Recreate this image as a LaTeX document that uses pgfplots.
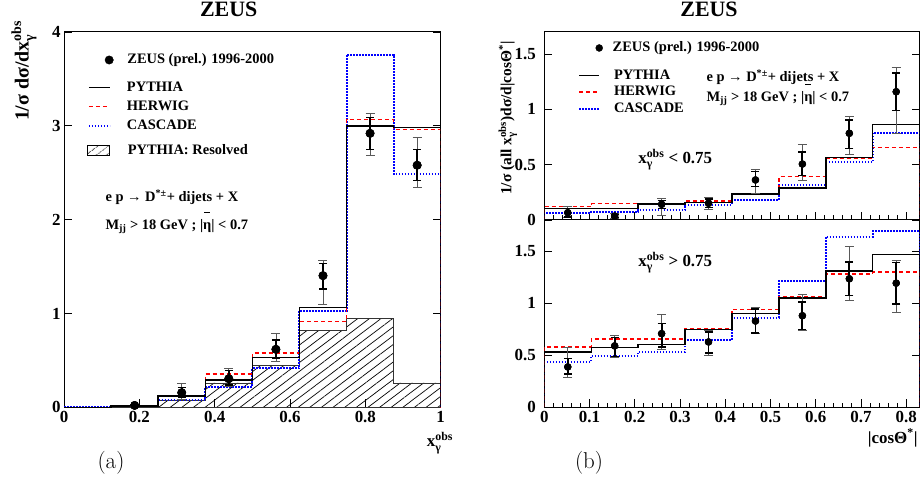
\documentclass[border=0pt]{standalone}
\usepackage{amsmath}
\usepackage{fontspec}
\usepackage{pgfplots}
\pgfplotsset{compat=1.18}
\usetikzlibrary{patterns.meta}
\newfontfamily\tms{Liberation Serif}
\newcommand\fs[1]{\fontsize{#1}{#1}\selectfont}
\newcommand\xobs{x$^{\text{obs}}_{\text{γ}}$}
\newcommand\etabar{\vbox{\hbox{\kern0.06em\vrule height 0.07em depth 0pt width 0.42em}\kern0.12em\hbox{η}}}

\pgfplotsset{
  zeus/.style={scale only axis, anchor=south west,
    axis line style={line width=1bp},
    tick style={line width=0.8bp, black},
    major tick length=8bp, minor tick length=4.5bp,
    tick align=inside, xtick pos=left, ytick pos=both,
    /pgf/number format/assume math mode=true,
    tick label style={font=\tms\bfseries\fs{17}},
    legend cell align=left},
  leg/.style 2 args={legend style={draw=none, fill=none, inner sep=0pt, outer sep=0pt,
    font=\tms\bfseries\fs{14.5}, row sep=#1,
    nodes={inner sep=0pt, text height=10bp, text depth=2bp},
    /tikz/every odd column/.append style={column sep=#2}}},
  pyt/.style={black, line width=1.4bp, const plot},
  her/.style={red, dash pattern=on 4bp off 3bp, line width=1.3bp, const plot},
  cas/.style={blue, dash pattern=on 1.5bp off 1.5bp, line width=2bp, const plot},
  outerr/.style={only marks, mark=*, mark size=#1, black,
    error bars/y dir=both, error bars/y explicit,
    error bars/error bar style={line width=0.7bp, black!65},
    error bars/error mark options={rotate=90, mark size=4.5bp, line width=0.7bp, black!65}},
  innerr/.style={only marks, mark=*, mark size=#1, black,
    error bars/y dir=both, error bars/y explicit,
    error bars/error bar style={line width=1.8bp, black},
    error bars/error mark options={rotate=90, mark size=4bp, line width=1.5bp, black}},
  lineimg/.style={legend image code/.code={\draw[##1] (0bp,0bp) -- (#1,0bp);}},
  dotimg/.style={legend image code/.code={\path (0bp,0bp); \draw[##1] plot coordinates {(#1,0bp)};}},
}

\begin{document}
\begin{tikzpicture}
\path[use as bounding box] (0,0) rectangle (920bp,483bp);

% ---------------- panel (a)
\begin{axis}[zeus, at={(64bp,75.7bp)}, width=376.7bp, height=375.3bp,
  xmin=0, xmax=1, ymin=0, ymax=4,
  xtick={0,0.2,...,1}, ytick={0,1,2,3,4},
  leg={0bp}{14bp}, legend style={at={(0.0637,0.9254)}, anchor=west}]
\addplot[pattern={Lines[angle=37, distance=7bp, line width=0.7bp]}, draw=black!80, line width=0.8bp, const plot, forget plot]
  coordinates {(0,0)(0.125,0)(0.25,0.075)(0.375,0.26)(0.5,0.45)(0.625,0.82)(0.75,0.95)(0.875,0.26)(1,0.26)} \closedcycle;
\addplot[cas, forget plot] coordinates {(0,0)(0.125,0.01)(0.25,0.078)(0.375,0.22)(0.5,0.415)(0.625,1.03)(0.75,3.76)(0.875,2.487)(1,2.487)(1,0)};
\addplot[her, forget plot] coordinates {(0,0)(0.125,0.01)(0.25,0.128)(0.375,0.355)(0.5,0.58)(0.625,0.913)(0.75,3.07)(0.875,2.96)(1,2.96)(1,0)};
\addplot[pyt, forget plot] coordinates {(0,0)(0.125,0.014)(0.25,0.12)(0.375,0.29)(0.5,0.53)(0.625,1.066)(0.75,3.00)(0.875,2.98)(1,2.98)(1,0)};
\addplot[outerr=4.2bp, forget plot] coordinates {
  (0.1875,0.02) += (0,0.015) -= (0,0.015)
  (0.3125,0.156) += (0,0.10) -= (0,0.07)
  (0.4375,0.305) += (0,0.11) -= (0,0.085)
  (0.5625,0.618) += (0,0.17) -= (0,0.13)
  (0.6875,1.403) += (0,0.16) -= (0,0.31)
  (0.8125,2.92) += (0,0.21) -= (0,0.24)
  (0.9375,2.58) += (0,0.30) -= (0,0.24)};
\addplot[innerr=4.2bp, forget plot] coordinates {
  (0.1875,0.02) += (0,0.01) -= (0,0.01)
  (0.3125,0.156) += (0,0.055) -= (0,0.045)
  (0.4375,0.305) += (0,0.085) -= (0,0.067)
  (0.5625,0.618) += (0,0.10) -= (0,0.10)
  (0.6875,1.403) += (0,0.13) -= (0,0.14)
  (0.8125,2.92) += (0,0.17) -= (0,0.17)
  (0.9375,2.58) += (0,0.17) -= (0,0.165)};
\addlegendimage{dotimg=21bp, mark=*, mark size=4.2bp, black}
\addlegendentry{ZEUS (prel.) 1996-2000}
\node[anchor=base west, font=\tms\bfseries\fs{14.5}] at (axis cs:0.1009,2.195) {e p → D\textsuperscript{*±}+ dijets + X};
\node[anchor=base west, font=\tms\bfseries\fs{14.5}] at (axis cs:0.1009,1.897) {M\textsubscript{jj} > 18 GeV ; |\etabar| < 0.7};
\end{axis}

\begin{axis}[zeus, hide axis, at={(64bp,75.7bp)}, width=376.7bp, height=375.3bp,
  xmin=0, xmax=1, ymin=0, ymax=1,
  leg={7.1bp}{16bp}, legend style={at={(0.0637,0.801)}, anchor=west}]
\addlegendimage{lineimg=21bp, black, line width=1.4bp}
\addlegendentry{PYTHIA}
\addlegendimage{lineimg=21bp, red, dash pattern=on 4bp off 3bp, line width=1.3bp}
\addlegendentry{HERWIG}
\addlegendimage{lineimg=21bp, blue, dash pattern=on 1.5bp off 1.5bp, line width=2bp}
\addlegendentry{CASCADE}
\end{axis}

\begin{axis}[zeus, hide axis, at={(64bp,75.7bp)}, width=376.7bp, height=375.3bp,
  xmin=0, xmax=1, ymin=0, ymax=1,
  leg={0bp}{18bp}, legend style={at={(0.0611,0.6832)}, anchor=west},
  legend image code/.code={\draw[#1] (0bp,-5bp) rectangle (22bp,5bp);}]
\addlegendimage{pattern={Lines[angle=37, distance=6bp, line width=0.6bp]}, draw=black, line width=0.8bp}
\addlegendentry{PYTHIA: Resolved}
\end{axis}

% ---------------- panel (b), upper
\begin{axis}[zeus, at={(544.3bp,263bp)}, width=375.4bp, height=188bp,
  xmin=0, xmax=0.83, ymin=0, ymax=1.7,
  xtick={0,0.1,...,0.8}, minor x tick num=4, xticklabels={},
  ytick={0,0.5,1,1.5}, yticklabel style={xshift=-5bp},
  leg={0bp}{10bp}, legend style={at={(0.0898,0.915)}, anchor=west}]
\addplot[cas, forget plot] coordinates {(0,0)(0,0.063)(0.10375,0.075)(0.2075,0.087)(0.31125,0.139)(0.415,0.18)(0.51875,0.32)(0.6225,0.52)(0.72625,0.787)(0.83,0.787)(0.83,0)};
\addplot[her, forget plot] coordinates {(0,0)(0,0.124)(0.10375,0.148)(0.2075,0.148)(0.31125,0.172)(0.415,0.241)(0.51875,0.395)(0.6225,0.558)(0.72625,0.654)(0.83,0.654)(0.83,0)};
\addplot[pyt, forget plot] coordinates {(0,0)(0,0.105)(0.10375,0.105)(0.2075,0.145)(0.31125,0.16)(0.415,0.235)(0.51875,0.29)(0.6225,0.564)(0.72625,0.865)(0.83,0.865)(0.83,0)};
\addplot[outerr=3.5bp, forget plot] coordinates {
  (0.0519,0.066) += (0,0.055) -= (0,0.04)
  (0.1556,0.036) += (0,0.02) -= (0,0.02)
  (0.2594,0.142) += (0,0.055) -= (0,0.097)
  (0.3631,0.151) += (0,0.053) -= (0,0.053)
  (0.4669,0.362) += (0,0.096) -= (0,0.12)
  (0.5706,0.506) += (0,0.18) -= (0,0.146)
  (0.6744,0.784) += (0,0.156) -= (0,0.187)
  (0.7781,1.16) += (0,0.22) -= (0,0.38)};
\addplot[innerr=3.5bp, forget plot] coordinates {
  (0.0519,0.066) += (0,0.04) -= (0,0.04)
  (0.1556,0.036) += (0,0.015) -= (0,0.015)
  (0.2594,0.142) += (0,0.033) -= (0,0.036)
  (0.3631,0.151) += (0,0.038) -= (0,0.038)
  (0.4669,0.362) += (0,0.075) -= (0,0.06)
  (0.5706,0.506) += (0,0.11) -= (0,0.105)
  (0.6744,0.784) += (0,0.12) -= (0,0.136)
  (0.7781,1.16) += (0,0.17) -= (0,0.17)};
\addlegendimage{dotimg=21bp, mark=*, mark size=3.5bp, black}
\addlegendentry{ZEUS (prel.) 1996-2000}
\node[anchor=base west, font=\tms\bfseries\fs{14.5}] at (axis cs:0.351,1.25) {e p → D\textsuperscript{*±}+ dijets + X};
\node[anchor=base west, font=\tms\bfseries\fs{14.5}] at (axis cs:0.351,1.07) {M\textsubscript{jj} > 18 GeV ; |\etabar| < 0.7};
\node[anchor=base west, font=\tms\bfseries\fs{17}] at (axis cs:0.2,0.513) {\xobs{} < 0.75};
\end{axis}

\begin{axis}[zeus, hide axis, at={(544.3bp,263bp)}, width=375.4bp, height=188bp,
  xmin=0, xmax=1, ymin=0, ymax=1,
  leg={4.6bp}{14bp}, legend style={at={(0.0898,0.681)}, anchor=west}]
\addlegendimage{lineimg=20bp, black, line width=1.4bp}
\addlegendentry{PYTHIA}
\addlegendimage{lineimg=20bp, red, dash pattern=on 4bp off 3bp, line width=1.3bp}
\addlegendentry{HERWIG}
\addlegendimage{lineimg=20bp, blue, dash pattern=on 1.5bp off 1.5bp, line width=2bp}
\addlegendentry{CASCADE}
\end{axis}

% ---------------- panel (b), lower
\begin{axis}[zeus, at={(544.3bp,75.7bp)}, width=375.4bp, height=187.3bp,
  xmin=0, xmax=0.83, ymin=0, ymax=1.8,
  xtick={0,0.1,...,0.8}, minor x tick num=4,
  ytick={0,0.5,1,1.5}, yticklabel style={xshift=-5bp}]
\addplot[cas] coordinates {(0,0)(0,0.436)(0.10375,0.497)(0.2075,0.532)(0.31125,0.644)(0.415,0.861)(0.51875,1.212)(0.6225,1.64)(0.72625,1.69)(0.83,1.69)(0.83,0)};
\addplot[her] coordinates {(0,0)(0,0.58)(0.10375,0.657)(0.2075,0.657)(0.31125,0.752)(0.415,0.941)(0.51875,1.065)(0.6225,1.28)(0.72625,1.30)(0.83,1.30)(0.83,0)};
\addplot[pyt] coordinates {(0,0)(0,0.532)(0.10375,0.573)(0.2075,0.602)(0.31125,0.749)(0.415,0.90)(0.51875,1.05)(0.6225,1.31)(0.72625,1.468)(0.83,1.468)(0.83,0)};
\addplot[outerr=3.5bp] coordinates {
  (0.0519,0.388) += (0,0.185) -= (0,0.096)
  (0.1556,0.59) += (0,0.10) -= (0,0.11)
  (0.2594,0.708) += (0,0.19) -= (0,0.15)
  (0.3631,0.628) += (0,0.11) -= (0,0.128)
  (0.4669,0.829) += (0,0.134) -= (0,0.12)
  (0.5706,0.88) += (0,0.21) -= (0,0.14)
  (0.6744,1.235) += (0,0.31) -= (0,0.21)
  (0.7781,1.193) += (0,0.22) -= (0,0.28)};
\addplot[innerr=3.5bp] coordinates {
  (0.0519,0.388) += (0,0.08) -= (0,0.07)
  (0.1556,0.59) += (0,0.08) -= (0,0.10)
  (0.2594,0.708) += (0,0.095) -= (0,0.127)
  (0.3631,0.628) += (0,0.096) -= (0,0.106)
  (0.4669,0.829) += (0,0.118) -= (0,0.115)
  (0.5706,0.88) += (0,0.13) -= (0,0.13)
  (0.6744,1.235) += (0,0.16) -= (0,0.16)
  (0.7781,1.193) += (0,0.20) -= (0,0.20)};
\node[anchor=base west, font=\tms\bfseries\fs{17}] at (axis cs:0.2,1.351) {\xobs{} > 0.75};
\end{axis}

% ---------------- titles and labels
\node[font=\tms\bfseries\fs{22}, anchor=base] at (228.7bp,466bp) {ZEUS};
\node[font=\tms\bfseries\fs{22}, anchor=base] at (709bp,466bp) {ZEUS};
\node[font=\tms\bfseries\fs{20}, rotate=90, anchor=east] at (24bp,466bp) {1/σ dσ/d\xobs};
\node[font=\tms\bfseries\fs{15.5}, rotate=90, anchor=center] at (508bp,365bp) {1/σ (all \xobs)dσ/d|cosΘ\textsuperscript{*}|};
\node[font=\tms\bfseries\fs{17}] at (440bp,40bp) {\xobs};
\node[font=\tms\bfseries\fs{17}, anchor=east] at (921bp,45bp) {|cosΘ\textsuperscript{*}|};
\node[font=\fs{23}] at (111bp,20bp) {(a)};
\node[font=\fs{23}] at (589bp,20bp) {(b)};
\end{tikzpicture}
\end{document}
